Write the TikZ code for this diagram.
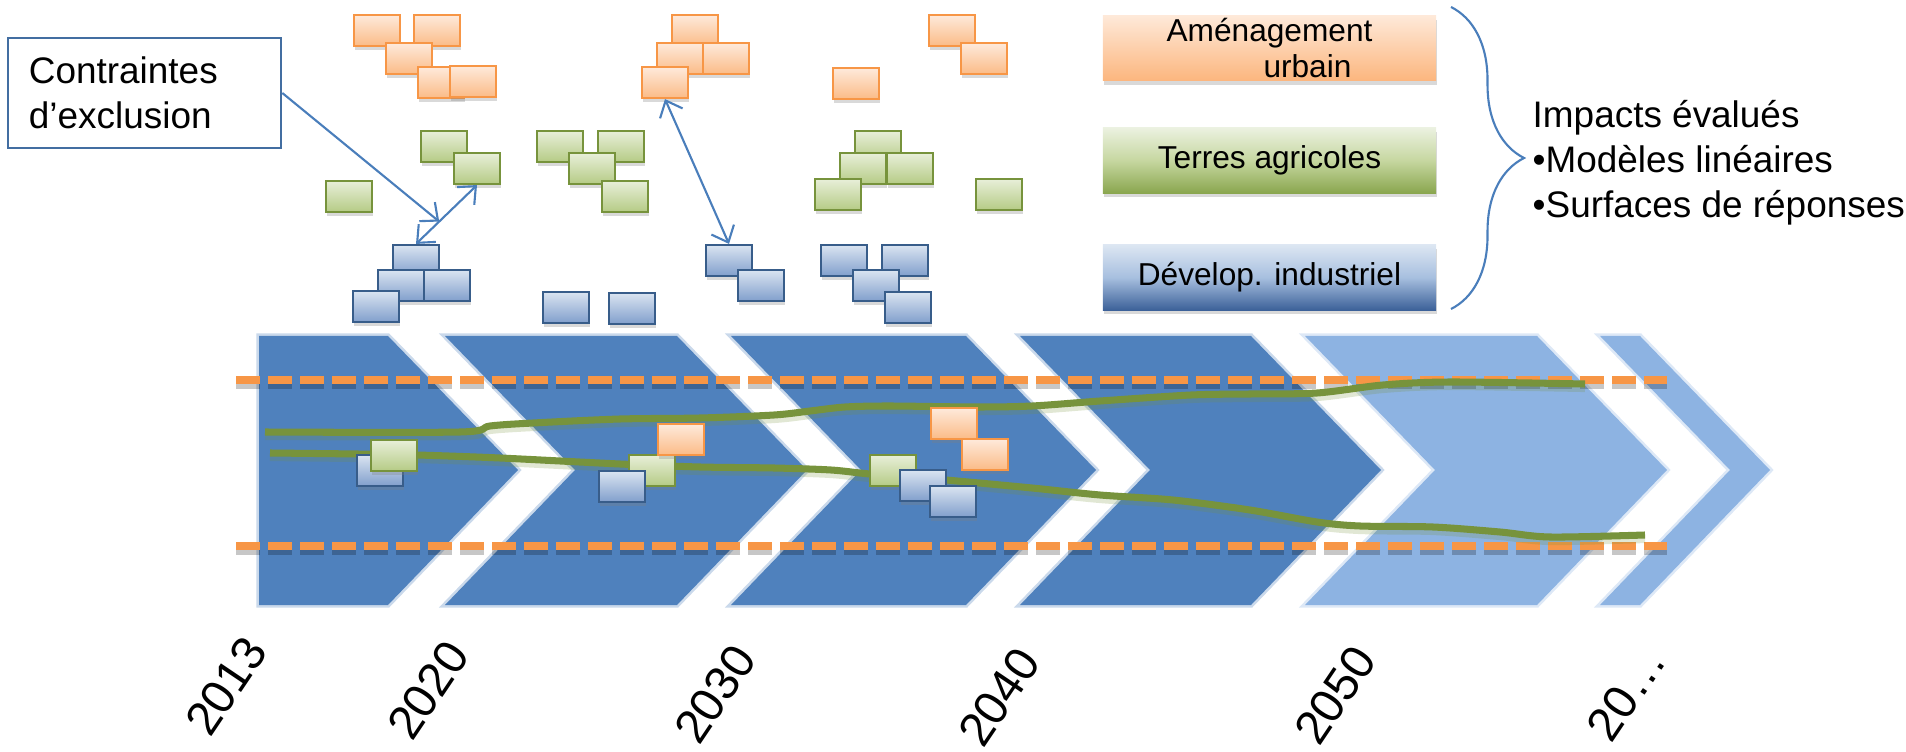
\documentclass[tikz,border=0pt]{standalone}
\usepackage{fontspec}
\setmainfont{Liberation Sans}
\usetikzlibrary{shadows,arrows.meta,decorations.pathreplacing}
\definecolor{chevdark}{HTML}{4F81BD}
\definecolor{chevlight}{HTML}{8DB3E2}
\definecolor{bandorange}{HTML}{F79646}
\definecolor{trendgreen}{HTML}{77933C}
\definecolor{linkblue}{HTML}{4A7EBB}
\definecolor{urbline}{HTML}{F79646}
\definecolor{urbtop}{HTML}{FEEADB}
\definecolor{urbbot}{HTML}{FBBB87}
\definecolor{agrline}{HTML}{77933C}
\definecolor{agrtop}{HTML}{E8EFD9}
\definecolor{agrbot}{HTML}{B5CB85}
\definecolor{indline}{HTML}{385D8A}
\definecolor{indtop}{HTML}{DAE4F1}
\definecolor{indbot}{HTML}{819FCC}
\definecolor{legurbtop}{HTML}{FEE9D9}
\definecolor{legurbbot}{HTML}{FCB67E}
\definecolor{legagrtop}{HTML}{EBF1E0}
\definecolor{legagrmid}{HTML}{C6D7A0}
\definecolor{legagrbot}{HTML}{8AA64F}
\definecolor{legindtop}{HTML}{DCE6F2}
\definecolor{legindmid}{HTML}{A7BFDF}
\definecolor{legindbot}{HTML}{3C6199}
\tikzstyle{box}=[rectangle, minimum width=0.46cm, minimum height=0.31cm, inner sep=0pt, line width=0.6pt, drop shadow={shadow xshift=0.4pt, shadow yshift=-1pt, opacity=0.3}]
\tikzstyle{urbbox}=[box, draw=urbline, top color=urbtop, bottom color=urbbot]
\tikzstyle{agrbox}=[box, draw=agrline, top color=agrtop, bottom color=agrbot]
\tikzstyle{indbox}=[box, draw=indline, top color=indtop, bottom color=indbot]
\tikzstyle{legend}=[rectangle, minimum width=3.33cm, minimum height=0.65cm, inner sep=0pt, align=center, font=\fontsize{9}{10.5}\selectfont, drop shadow={shadow xshift=0.3pt, shadow yshift=-1.2pt, opacity=0.3}]
\tikzstyle{callout}=[draw=chevdark!85!black, line width=0.7pt, fill=white, minimum width=2.73cm, minimum height=1.1cm, text width=2.31cm, inner xsep=0.21cm, inner ysep=0pt, align=left, font=\fontsize{10.5}{12.8}\selectfont]
\tikzstyle{link}=[draw=linkblue, line width=0.6pt]
\tikzstyle{bound}=[draw=bandorange, line width=2.1pt, dash pattern=on 6.7pt off 2.4pt]
\tikzstyle{trend}=[draw=trendgreen, line width=2pt]
\tikzstyle{year}=[rotate=56, inner sep=0pt, font=\fontsize{13.5}{16}\selectfont]

\begin{document}
\begin{tikzpicture}[x=0.01cm,y=-0.01cm,>={Straight Barb[length=4pt,width=7pt]}]
\useasboundingbox (0,0) rectangle (1906,752);
% timeline chevrons
\fill[chevdark, draw=chevdark, draw opacity=0.3, line width=1.5pt] (259,336) -- (388,336) -- (518,470) -- (388,605) -- (259,605) -- cycle;
\foreach \l/\r/\c in {445/677/chevdark, 731/966/chevdark, 1020/1251/chevdark, 1305/1537/chevlight, 1600/1640/chevlight}
	\fill[\c, draw=\c, draw opacity=0.3, line width=1.5pt] (\l,336) -- (\r,336) -- (\r+130,470) -- (\r,605) -- (\l,605) -- (\l+130,470) -- cycle;
% bounds
\foreach \y in {380,546} {
	\draw[bound, draw=black, draw opacity=0.22] (236,\y+5) -- (1667,\y+5);
	\draw[bound] (236,\y) -- (1667,\y);
}
% trends
\foreach \s/\o in {1.3pt/0.22, 0pt/1} {
\draw[trend, yshift=-\s, draw opacity=\o] plot[smooth, tension=0.5] coordinates {(265,432) (460,432) (490,426) (533,423) (620,419) (700,418) (774,415) (810,411) (845,407) (889,406) (975,407) (1032,406) (1100,401) (1191,395) (1250,394) (1317,393) (1383,385) (1450,382) (1585,384)};
\draw[trend, yshift=-\s, draw opacity=\o] plot[smooth, tension=0.5] coordinates {(270,453) (357,454) (417,455) (500,458) (620,464) (700,467) (774,468) (831,470) (870,474) (946,480) (1032,488) (1100,495) (1173,500) (1250,510) (1317,522) (1360,526) (1433,527) (1500,532) (1550,537) (1645,535)};
}
% boxes on the timeline
\node[indbox] (ta1) at (380,470.5) {};
\node[agrbox] (ta2) at (394,455.5) {};
\node[agrbox] (tb1) at (652,470.5) {};
\node[indbox] (tb2) at (622,486.5) {};
\node[urbbox] (tb3) at (681,439.5) {};
\node[agrbox] (tc1) at (893,470.5) {};
\node[indbox] (tc2) at (923,485.5) {};
\node[indbox] (tc3) at (953,501.5) {};
\node[urbbox] (tc4) at (954,423.5) {};
\node[urbbox] (tc5) at (985,454.5) {};
% land use blocks
\foreach \n/\x/\y in {o1/377/30.5, o2/437/30.5, o3/409/58.5, o4/441/82.5, o5/473/81.5, p1/695/30.5, p2/680/58.5, p3/726/58.5, p4/665/82.5, p5/856/83.5, p6/952/30.5, p7/984/58.5}
	\node[urbbox] (\n) at (\x,\y) {};
\foreach \n/\x/\y in {g1/444/146.5, g2/477/168.5, g3/349/196.5, q1/560/146.5, q2/621/146.5, q3/592/168.5, q4/625/196.5, r1/878/146.5, r2/863/168.5, r3/910/168.5, r4/838/194.5, r5/999/194.5}
	\node[agrbox] (\n) at (\x,\y) {};
\foreach \n/\x/\y in {b1/416/260.5, b2/401/285.5, b3/447/285.5, b4/376/306.5, s0/566/307.5, s9/632/308.5, s1/729/260.5, s2/761/285.5, t1/844/260.5, t2/905/260.5, t3/876/285.5, t4/908/307.5}
	\node[indbox] (\n) at (\x,\y) {};
% exclusion constraints
\node[callout] (excl) at (144.5,93) {Contraintes\\d’exclusion};
\draw[link, <->] (b1.north) -- coordinate[pos=0.38] (hit) (g2.south);
\draw[link, ->] (excl.east) -- (hit);
\draw[link, <->] (p4.south) -- (s1.north);
% legend
\node[legend, top color=legurbtop, bottom color=legurbbot] (urb) at (1269.5,48) {Aménagement\\\hspace*{2.4em}urbain};
\node[legend, top color=legagrtop, bottom color=legagrbot, middle color=legagrmid] (agr) at (1269.5,160.5) {Terres agricoles};
\node[legend, top color=legindtop, bottom color=legindbot, middle color=legindmid] (ind) at (1269.5,277.5) {Dévelop. industriel};
\coordinate (bracetop) at (1451,7);
\coordinate (bracebot) at (1451,309);
\draw[linkblue, line width=0.6pt, decorate, decoration={brace, amplitude=0.73cm}] (bracetop) -- (bracebot);
\node[anchor=north west, align=left, inner sep=0pt, font=\fontsize{10.5}{12.8}\selectfont] (imp) at (1532,100) {Impacts évalués\\•Modèles linéaires\\•Surfaces de réponses};
% years
\node[year] (y2013) at (226,686) {2013};
\node[year] (y2020) at (428,690) {2020};
\node[year] (y2030) at (715,694) {2030};
\node[year] (y2040) at (999,697) {2040};
\node[year] (y2050) at (1335,695) {2050};
\node[year] (y20xx) at (1626,694) {20…};
\end{tikzpicture}
\end{document}
